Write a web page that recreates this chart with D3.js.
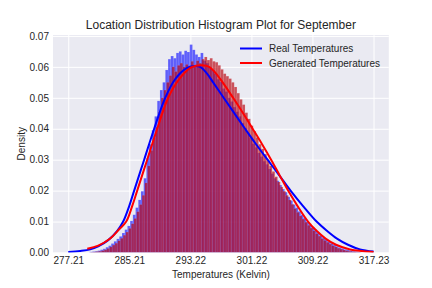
<!DOCTYPE html>
<html>
<head>
<meta charset="utf-8">
<script src="https://cdn.jsdelivr.net/npm/d3@7"></script>
<style>
    body { margin: 0; background: #fff; }
    text { font-family: "Liberation Sans", Arial, sans-serif; fill: #262626; }
</style>
</head>
<body>
<script>
/**
 * Histogram of real vs generated temperatures, with fitted density curves.
 */
const xTicks = [277.21, 285.21, 293.22, 301.22, 309.22, 317.23],
    yTicks = [0, 0.01, 0.02, 0.03, 0.04, 0.05, 0.06, 0.07];

// Histogram bins (Kelvin): first edge and width
const realBinStart = 280.0, genBinStart = 280.15, binWidth = 0.355;

const realDensity = [
    0.0002, 0.0003, 0.0004, 0.0006, 0.0009, 0.0012, 0.0017, 0.0022, 0.0029, 0.0036,
    0.0044, 0.0052, 0.0063, 0.0074, 0.0086, 0.0102, 0.0122, 0.0145, 0.0170, 0.0198,
    0.0240, 0.0305, 0.0350, 0.0395, 0.0440, 0.0490, 0.0525, 0.0550, 0.0590, 0.0625,
    0.0635, 0.0628, 0.0645, 0.0650, 0.0640, 0.0652, 0.0648, 0.0672, 0.0655, 0.0640,
    0.0632, 0.0645, 0.0620, 0.0612, 0.0600, 0.0590, 0.0578, 0.0560, 0.0552, 0.0530,
    0.0520, 0.0500, 0.0488, 0.0470, 0.0455, 0.0440, 0.0418, 0.0402, 0.0385, 0.0370,
    0.0352, 0.0340, 0.0322, 0.0310, 0.0295, 0.0285, 0.0270, 0.0255, 0.0240, 0.0232,
    0.0218, 0.0205, 0.0195, 0.0180, 0.0168, 0.0155, 0.0145, 0.0133, 0.0122, 0.0112,
    0.0100, 0.0090, 0.0082, 0.0074, 0.0064, 0.0056, 0.0048, 0.0042, 0.0035, 0.0030,
    0.0025, 0.0020, 0.0016, 0.0013, 0.0010, 0.0008, 0.0006, 0.0004, 0.0003, 0.0002
];

const genDensity = [
    0.0001, 0.0002, 0.0003, 0.0004, 0.0006, 0.0009, 0.0013, 0.0018, 0.0024, 0.0030,
    0.0038, 0.0046, 0.0056, 0.0066, 0.0078, 0.0093, 0.0110, 0.0132, 0.0155, 0.0185,
    0.0225, 0.0280, 0.0330, 0.0370, 0.0405, 0.0455, 0.0500, 0.0525, 0.0550, 0.0572,
    0.0600, 0.0585, 0.0605, 0.0612, 0.0600, 0.0608, 0.0598, 0.0618, 0.0605, 0.0620,
    0.0612, 0.0625, 0.0632, 0.0622, 0.0628, 0.0618, 0.0615, 0.0605, 0.0592, 0.0578,
    0.0570, 0.0562, 0.0550, 0.0535, 0.0515, 0.0495, 0.0478, 0.0452, 0.0432, 0.0410,
    0.0392, 0.0372, 0.0350, 0.0335, 0.0318, 0.0298, 0.0280, 0.0262, 0.0245, 0.0228,
    0.0212, 0.0198, 0.0185, 0.0170, 0.0156, 0.0142, 0.0130, 0.0118, 0.0108, 0.0098,
    0.0088, 0.0079, 0.0070, 0.0061, 0.0053, 0.0045, 0.0039, 0.0033, 0.0027, 0.0022,
    0.0018, 0.0014, 0.0011, 0.0008, 0.0006, 0.0004, 0.0003, 0.0002, 0.0001, 0.0001
];

// Fitted density curves: temperature and density
const realCurveT = [277.21, 278.78, 280.09, 281.14, 282.45, 283.63, 284.41, 285.20, 285.85, 287.16,
    288.47, 289.92, 291.22, 292.67, 293.71, 294.50, 295.35, 296.20, 297.58, 298.98, 300.39, 301.83,
    303.34, 304.85, 306.35, 307.99, 309.76, 311.13, 312.44, 313.88, 315.45, 317.23];
const realCurveD = [0.0002, 0.0005, 0.0010, 0.0020, 0.0040, 0.0070, 0.0100, 0.0150, 0.0200, 0.0300,
    0.0400, 0.0500, 0.0560, 0.0595, 0.0603, 0.0600, 0.0580, 0.0550, 0.0500, 0.0450, 0.0400, 0.0350,
    0.0300, 0.0250, 0.0200, 0.0150, 0.0100, 0.0070, 0.0045, 0.0025, 0.0010, 0.0003];

const genCurveT = [279.70, 281.14, 282.71, 283.89, 284.81, 285.59, 286.25, 287.56, 288.87, 290.31,
    291.75, 293.32, 294.76, 295.68, 296.53, 297.45, 298.82, 300.13, 301.38, 302.62, 303.80, 304.91,
    306.03, 307.27, 308.64, 309.76, 310.94, 312.31, 314.15, 317.23];
const genCurveD = [0.0012, 0.0022, 0.0045, 0.0075, 0.0100, 0.0150, 0.0200, 0.0300, 0.0400, 0.0500,
    0.0560, 0.0598, 0.0605, 0.0600, 0.0580, 0.0550, 0.0500, 0.0450, 0.0400, 0.0350, 0.0300, 0.0250,
    0.0200, 0.0150, 0.0100, 0.0070, 0.0045, 0.0025, 0.0010, 0.0002];

const seriesNames = ['Real Temperatures', 'Generated Temperatures'],
    seriesColors = ['#0000ff', '#ff0000'],
    barColors = ['#0000ff', '#b9000a'];

/**
 * Layout.
 */
const visWidth = 432, visHeight = 288,
    plot = { left: 53, right: 388.8, top: 35, bottom: 252.5 };

const x = d3.scaleLinear().domain([275.21, 319.23]).range([plot.left, plot.right]),
    y = d3.scaleLinear().domain([0, 0.0703]).range([plot.bottom, plot.top]);

const svg = d3.select('body').append('svg')
    .attr('width', visWidth).attr('height', visHeight);

svg.append('defs').append('clipPath').attr('id', 'clip')
    .append('rect')
    .attr('x', plot.left).attr('y', plot.top)
    .attr('width', plot.right - plot.left).attr('height', plot.bottom - plot.top);

svg.append('rect')
    .attr('x', plot.left).attr('y', plot.top)
    .attr('width', plot.right - plot.left).attr('height', plot.bottom - plot.top)
    .attr('fill', '#eaeaf2');

// Grid
const xAxis = svg.append('g')
    .attr('transform', 'translate(0,' + plot.bottom + ')')
    .call(d3.axisBottom(x).tickValues(xTicks).tickFormat(d3.format('.2f'))
        .tickSize(-(plot.bottom - plot.top)).tickPadding(4));
const yAxis = svg.append('g')
    .attr('transform', 'translate(' + plot.left + ',0)')
    .call(d3.axisLeft(y).tickValues(yTicks).tickFormat(d3.format('.2f'))
        .tickSize(-(plot.right - plot.left)).tickPadding(4));

[xAxis, yAxis].forEach(a => {
    a.select('.domain').remove();
    a.selectAll('.tick line').attr('stroke', '#fff').attr('stroke-width', 1);
    a.selectAll('.tick text').attr('font-size', 10).attr('fill', '#262626');
});

/**
 * Histograms.
 */
const bars = svg.append('g').attr('clip-path', 'url(#clip)');

function drawHist(values, start, color, opacity) {
    bars.append('g').selectAll('rect').data(values).enter().append('rect')
        .attr('x', (d, i) => x(start + i * binWidth))
        .attr('width', (d, i) => x(start + (i + 1) * binWidth) - x(start + i * binWidth))
        .attr('y', d => y(d))
        .attr('height', d => y(0) - y(d))
        .attr('fill', color)
        .attr('fill-opacity', opacity)
        .attr('stroke', '#fff')
        .attr('stroke-opacity', 0.15)
        .attr('stroke-width', 0.5);
}

drawHist(realDensity, realBinStart, barColors[0], 0.6);
drawHist(genDensity, genBinStart, barColors[1], 0.66);

/**
 * Curves.
 */
const line = d3.line().x(d => x(d[0])).y(d => y(d[1])).curve(d3.curveCatmullRom);
const curves = svg.append('g').attr('clip-path', 'url(#clip)');

curves.append('path')
    .attr('d', line(d3.zip(realCurveT, realCurveD)))
    .attr('fill', 'none').attr('stroke', seriesColors[0]).attr('stroke-width', 2);
curves.append('path')
    .attr('d', line(d3.zip(genCurveT, genCurveD)))
    .attr('fill', 'none').attr('stroke', seriesColors[1]).attr('stroke-width', 2);

/**
 * Legend.
 */
const legend = svg.append('g');
seriesNames.forEach((name, i) => {
    const ly = 48.5 + i * 14.5;
    legend.append('line')
        .attr('x1', 240).attr('x2', 262).attr('y1', ly).attr('y2', ly)
        .attr('stroke', seriesColors[i]).attr('stroke-width', 2);
    legend.append('text')
        .attr('x', 269).attr('y', ly + 3.5)
        .attr('font-size', 10)
        .text(name);
});

/**
 * Texts.
 */
svg.append('text')
    .attr('x', (plot.left + plot.right) / 2).attr('y', 29)
    .attr('text-anchor', 'middle').attr('font-size', 12)
    .text('Location Distribution Histogram Plot for September');

svg.append('text')
    .attr('x', (plot.left + plot.right) / 2).attr('y', 277.5)
    .attr('text-anchor', 'middle').attr('font-size', 10)
    .text('Temperatures (Kelvin)');

svg.append('text')
    .attr('transform', 'translate(25,' + (plot.top + plot.bottom) / 2 + ') rotate(-90)')
    .attr('text-anchor', 'middle').attr('font-size', 10)
    .text('Density');
</script>
</body>
</html>
